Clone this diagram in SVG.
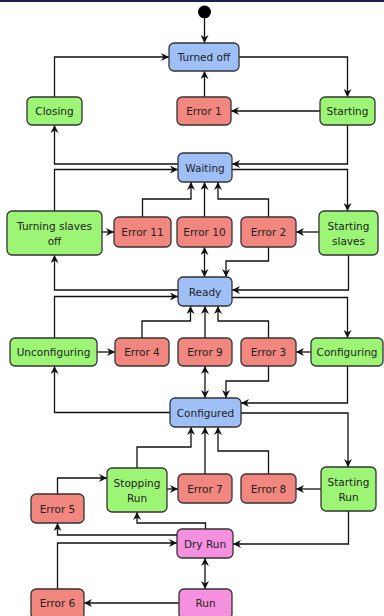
<svg xmlns="http://www.w3.org/2000/svg" width="384" height="616" viewBox="0 0 384 616">
<defs>
<marker id="a" viewBox="0 0 10 10" refX="10" refY="5" markerWidth="9" markerHeight="8" markerUnits="userSpaceOnUse" orient="auto-start-reverse">
<path d="M0,0 L10,5 L0,10 L3,5 z" fill="#111"/>
</marker>
<style>
.n rect{stroke:#333;stroke-width:1.3}
.b rect{fill:#9fbff7}
.g rect{fill:#9cf575}
.r rect{fill:#f2877f}
.p rect{fill:#f590de}
text{font-family:"DejaVu Sans",Verdana,sans-serif;font-size:10.5px;fill:#222;text-anchor:middle}
#edges path{fill:none;stroke:#111;stroke-width:1.3;marker-end:url(#a)}
#edges path.d{marker-start:url(#a)}
</style>
</defs>
<rect x="0" y="0" width="384" height="616" fill="#fff"/>
<rect x="0" y="0" width="384" height="2" fill="#1e1e4e"/>
<g id="start"><circle cx="204.5" cy="12" r="6.5" fill="#000"/></g>
<g id="edges">
<path d="M204.5,18.5 V43"/>
<path d="M54.5,97 V57 H169"/>
<path d="M239,57 H347.5 V97"/>
<path d="M320,111 H231"/>
<path d="M204.5,97 V71"/>
<path d="M347.5,125 V164 H232"/>
<path d="M178,164 H54.5 V125"/>
<path d="M232,169.5 H347.5 V211"/>
<path d="M54.5,211 V169.5 H178"/>
<path d="M102,232 H114"/>
<path d="M319,232 H296"/>
<path d="M142.5,217 V199 H191 V182"/>
<path d="M204.5,217 V182"/>
<path d="M268.5,217 V199 H218 V182"/>
<path class="d" d="M204.5,247 V277"/>
<path d="M268.5,247 V261 H226 V277"/>
<path d="M348.5,255 V290 H232"/>
<path d="M178,290 H54.5 V255"/>
<path d="M54.5,338 V296.5 H178"/>
<path d="M232,297.5 H347.5 V338"/>
<path d="M97,352 H115"/>
<path d="M311,352 H296"/>
<path d="M142,338 V321 H190.5 V306"/>
<path d="M205,338 V306"/>
<path d="M268.5,338 V321 H218 V306"/>
<path class="d" d="M205,366 V398"/>
<path d="M268.5,366 V381 H226 V398"/>
<path d="M347.5,366 V403 H241"/>
<path d="M170,412.5 H54.5 V366"/>
<path d="M241,413 H348 V467"/>
<path d="M137,468 V447 H191 V427"/>
<path d="M205,474 V427"/>
<path d="M268.5,474 V451 H218 V427"/>
<path d="M321,489 H296"/>
<path d="M167,489 H178"/>
<path d="M57.5,494 V478 H107"/>
<path d="M205.5,529 V523 H137 V512"/>
<path d="M177,535 H57.5 V523"/>
<path d="M57.5,589 V543 H177"/>
<path d="M348.5,511 V544 H233"/>
<path class="d" d="M205,558 V589"/>
<path d="M179,603 H84"/>
</g>
<g id="turned_off" class="n b"><rect x="169" y="43" width="70" height="28" rx="5"/><text x="204" y="61">Turned off</text></g>
<g id="closing" class="n g"><rect x="27" y="97" width="55" height="28" rx="5"/><text x="54.5" y="115">Closing</text></g>
<g id="error1" class="n r"><rect x="177" y="97" width="54" height="28" rx="5"/><text x="204" y="115">Error 1</text></g>
<g id="starting" class="n g"><rect x="320" y="97" width="55" height="28" rx="5"/><text x="347.5" y="115">Starting</text></g>
<g id="waiting" class="n b"><rect x="178" y="153" width="54" height="29" rx="5"/><text x="205" y="171.5">Waiting</text></g>
<g id="turning_slaves_off" class="n g"><rect x="7" y="211" width="95" height="44" rx="5"/><text x="54.5" y="229.5">Turning slaves</text><text x="54.5" y="245">off</text></g>
<g id="error11" class="n r"><rect x="114" y="217" width="57" height="30" rx="5"/><text x="142.5" y="236">Error 11</text></g>
<g id="error10" class="n r"><rect x="177" y="217" width="55" height="30" rx="5"/><text x="204.5" y="236">Error 10</text></g>
<g id="error2" class="n r"><rect x="241" y="217" width="55" height="30" rx="5"/><text x="268.5" y="236">Error 2</text></g>
<g id="starting_slaves" class="n g"><rect x="319" y="211" width="59" height="44" rx="5"/><text x="348.5" y="229.5">Starting</text><text x="348.5" y="245">slaves</text></g>
<g id="ready" class="n b"><rect x="178" y="277" width="54" height="29" rx="5"/><text x="205" y="295.5">Ready</text></g>
<g id="unconfiguring" class="n g"><rect x="10" y="338" width="87" height="28" rx="5"/><text x="53.5" y="356">Unconfiguring</text></g>
<g id="error4" class="n r"><rect x="115" y="338" width="54" height="28" rx="5"/><text x="142" y="356">Error 4</text></g>
<g id="error9" class="n r"><rect x="178" y="338" width="54" height="28" rx="5"/><text x="205" y="356">Error 9</text></g>
<g id="error3" class="n r"><rect x="241" y="338" width="55" height="28" rx="5"/><text x="268.5" y="356">Error 3</text></g>
<g id="configuring" class="n g"><rect x="311" y="338" width="72" height="28" rx="5"/><text x="347" y="356">Configuring</text></g>
<g id="configured" class="n b"><rect x="170" y="398" width="71" height="29" rx="5"/><text x="205.5" y="416.5">Configured</text></g>
<g id="stopping_run" class="n g"><rect x="107" y="468" width="60" height="44" rx="5"/><text x="137" y="486.5">Stopping</text><text x="137" y="502">Run</text></g>
<g id="error7" class="n r"><rect x="178" y="474" width="54" height="29" rx="5"/><text x="205" y="492.5">Error 7</text></g>
<g id="error8" class="n r"><rect x="241" y="474" width="55" height="29" rx="5"/><text x="268.5" y="492.5">Error 8</text></g>
<g id="starting_run" class="n g"><rect x="321" y="467" width="55" height="44" rx="5"/><text x="348.5" y="485.5">Starting</text><text x="348.5" y="501">Run</text></g>
<g id="error5" class="n r"><rect x="31" y="494" width="53" height="29" rx="5"/><text x="57.5" y="512.5">Error 5</text></g>
<g id="dry_run" class="n p"><rect x="177" y="529" width="56" height="29" rx="5"/><text x="205" y="547.5">Dry Run</text></g>
<g id="run" class="n p"><rect x="179" y="589" width="53" height="30" rx="5"/><text x="205.5" y="607">Run</text></g>
<g id="error6" class="n r"><rect x="31" y="589" width="53" height="30" rx="5"/><text x="57.5" y="607">Error 6</text></g>
</svg>
